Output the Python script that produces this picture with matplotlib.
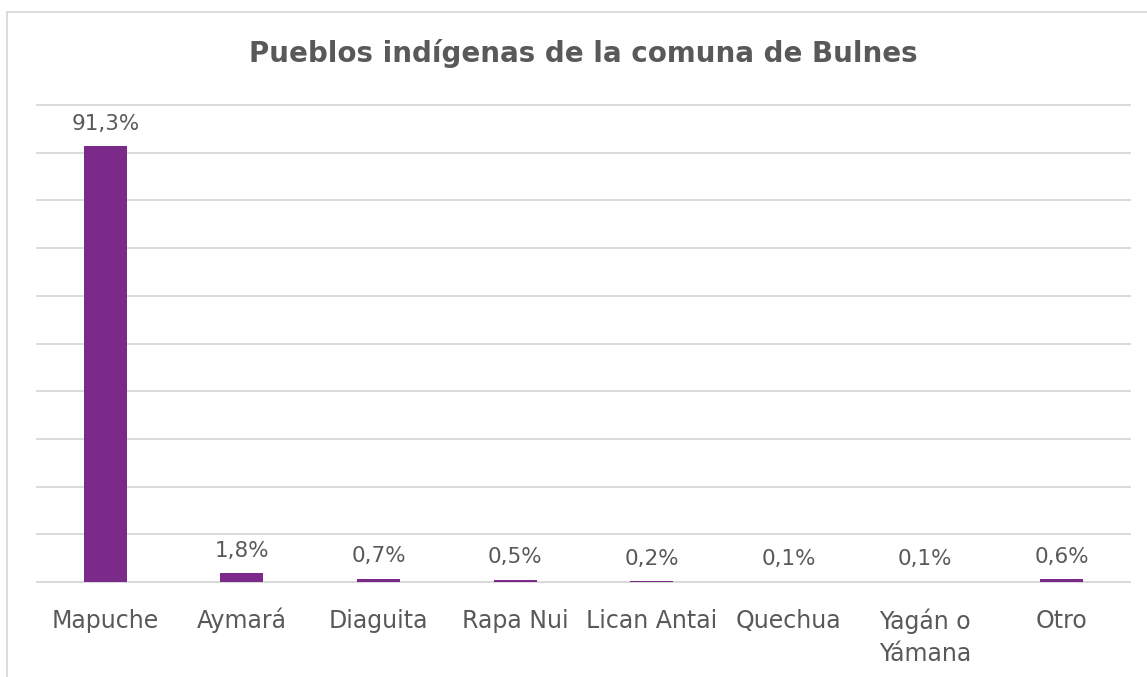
import matplotlib.pyplot as plt
from matplotlib.patches import Rectangle

pueblos = ["Mapuche", "Aymará", "Diaguita", "Rapa Nui", "Lican Antai",
           "Quechua", "Yagán o\nYámana", "Otro"]
porcentajes = [91.3, 1.8, 0.7, 0.5, 0.2, 0.1, 0.1, 0.6]
etiquetas = ["91,3%", "1,8%", "0,7%", "0,5%", "0,2%", "0,1%", "0,1%", "0,6%"]

morado = "#7B2A8A"
gris = "#595959"

plt.rcParams['font.family'] = ['DejaVu Sans']

fig = plt.figure(figsize=(11.47, 6.77), dpi=100)
ax = fig.add_axes([37/1147, 1-582/677, (1130-37)/1147, (582-105)/677])

# borde del grafico
fig.patches.append(Rectangle((7/1147, -0.1), 1.2, 1-11.5/677+0.1,
                             transform=fig.transFigure, fill=False,
                             edgecolor="#D9D9D9", linewidth=1.3))

x = range(len(pueblos))
ax.bar(x, porcentajes, width=0.315, color=morado, zorder=3)
for i, v in enumerate(porcentajes):
    ax.annotate(etiquetas[i], (i, v), xytext=(0, 9), textcoords="offset points",
                ha="center", va="bottom", fontsize=15.5, color=gris)

# nombres de los pueblos (baseline de la primera linea fija)
for i, nombre in enumerate(pueblos):
    n = nombre.count("\n")
    ax.annotate(nombre, (i, 0), xytext=(0, -46 - 33 * n), textcoords="offset pixels",
                ha="center", va="baseline", fontsize=17, color=gris,
                linespacing=1.4, annotation_clip=False)

ax.set_xlim(-0.5, len(pueblos) - 0.5)
ax.set_ylim(0, 100)
ax.set_yticks(range(0, 101, 10))
ax.yaxis.grid(True, color="#D9D9D9", linewidth=1.4, zorder=0)
for g in ax.get_ygridlines():
    g.set_clip_on(False)
ax.set_yticklabels([])
ax.set_xticks([])
ax.tick_params(axis="y", length=0)
for s in ["top", "right", "left"]:
    ax.spines[s].set_visible(False)
ax.spines["bottom"].set_color("#D9D9D9")
ax.spines["bottom"].set_linewidth(1.4)

fig.text(583/1147, 1-54/677, "Pueblos indígenas de la comuna de Bulnes",
         ha="center", va="center", fontsize=20, fontweight="bold", color=gris)

fig.savefig("out.png", dpi=100)
